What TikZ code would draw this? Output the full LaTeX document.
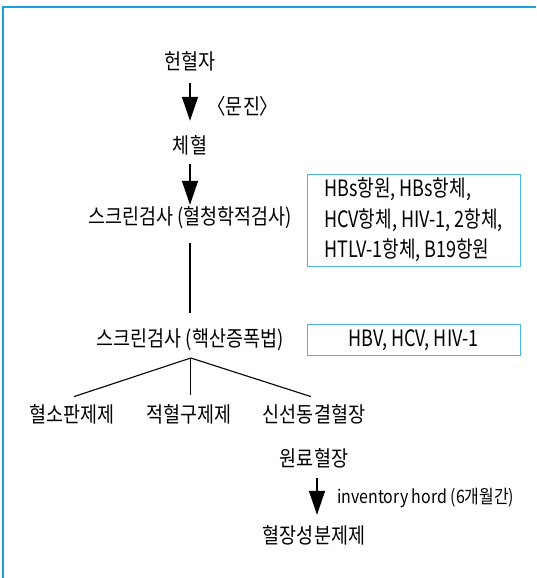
\documentclass[tikz,border=0pt]{standalone}
\usepackage{fontspec}
\setmainfont[FakeStretch=0.86]{Noto Sans CJK KR}
\newfontfamily\krp[FakeStretch=0.86,RawFeature=+palt]{Noto Sans CJK KR}
\newfontfamily\boxfont[FakeStretch=0.8]{Noto Sans CJK KR}
\usetikzlibrary{arrows.meta}
\definecolor{framec}{HTML}{1BA0DA}
\definecolor{boxc}{HTML}{4CB2E4}
\begin{document}
\begin{tikzpicture}[x=1pt,y=-1pt,
  lbl/.style={inner sep=0pt, text height=17.7pt, text depth=1.3pt, font=\fontsize{21.5}{24}\selectfont},
  small/.style={inner sep=0pt, font=\fontsize{18.5}{21}\selectfont},
  arr/.style={line width=1.4pt,-{Triangle[length=24pt,width=16pt]}},
  ln/.style={line width=1.1pt},
  infobox/.style={draw=boxc, line width=0.9pt, inner sep=0pt, minimum width=213pt,
    font=\boxfont\fontsize{22.5}{30.5}\selectfont}]
\useasboundingbox (0,0) rectangle (536,578);
\fill[white] (0,0) rectangle (536,578);
\draw[framec, line width=2.2pt] (3,578) -- (3,7) -- (536,7);

\node[lbl] (donor) at (190,61.5) {헌혈자};
\node[lbl] (inter) at (243,106) {\krp 〈문진〉};
\node[lbl] (blood) at (190,145) {체혈};
\node[lbl] (scr1) at (190,216.5) {스크린검사 (혈청학적검사)};
\node[lbl] (scr2) at (190,338) {스크린검사 (핵산증폭법)};
\coordinate (apex) at (190.8,358);
\node[lbl] (p1) at (72,414) {혈소판제제};
\node[lbl] (p2) at (189,414) {적혈구제제};
\node[lbl] (p3) at (314,414) {신선동결혈장};
\coordinate (t1) at (74,396.6);
\coordinate (t2) at (190.8,395);
\coordinate (t3) at (311,396.6);
\node[lbl] (raw) at (314,458) {원료혈장};
\node[small, anchor=west] (hold) at (337,498) {inventory hord (6개월간)};
\node[lbl] (plasma) at (314,535.5) {혈장성분제제};

\node[infobox, minimum height=92pt, align=left] (box1) at (413.5,220)
  {HBs항원, HBs항체,\\HCV항체, HIV-1, 2항체,\\HTLV-1항체, B19항원};
\node[infobox, minimum height=30.5pt] (box2) at (413.5,340) {HBV, HCV, HIV-1};

\draw[arr, shorten <=12pt, shorten >=14.5pt] (donor) -- (blood);
\draw[arr, shorten <=9.5pt, shorten >=2pt] (blood) -- (scr1);
\draw[ln, shorten <=17pt, shorten >=15.5pt] (scr1) -- (scr2);
\draw[ln] (apex) -- (t1);
\draw[ln] (apex) -- (t2);
\draw[ln] (apex) -- (t3);
\draw[arr, shorten <=10pt, shorten >=11pt] ([xshift=3pt]raw.south) -- ([xshift=3pt]plasma.north);
\end{tikzpicture}
\end{document}
